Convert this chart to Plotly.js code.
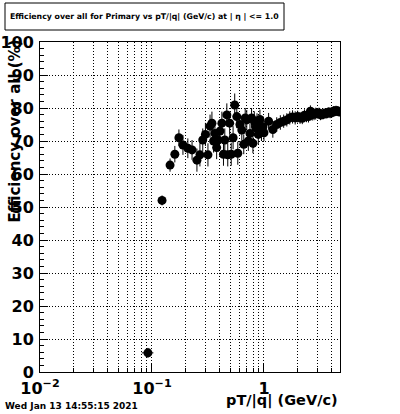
<!DOCTYPE html>
<html>
<head>
<meta charset="utf-8">
<script src="https://cdn.plot.ly/plotly-3.0.1.min.js"></script>
<style>html,body{margin:0;padding:0;background:#fff;}#chart{width:400px;height:414px;}</style>
</head>
<body>
<div id="chart"></div>
<script>
// pT/|q| bin centres (GeV/c)
const pt = [0.092, 0.123, 0.145, 0.160, 0.174, 0.189, 0.209, 0.228, 0.252, 0.268,
            0.284, 0.300, 0.316, 0.330, 0.343, 0.355, 0.365, 0.378, 0.389, 0.405,
            0.421, 0.435, 0.447, 0.466, 0.475, 0.494, 0.510, 0.530, 0.548, 0.572,
            0.584, 0.610, 0.634, 0.660, 0.680, 0.702, 0.725, 0.750, 0.775, 0.797,
            0.820, 0.845, 0.867, 0.890, 0.920, 0.950, 0.980,
            1.0, 1.1, 1.2, 1.3, 1.4, 1.5, 1.6, 1.7, 1.8, 1.9,
            2.0, 2.1, 2.2, 2.3, 2.4, 2.5, 2.6, 2.7, 2.8, 2.9,
            3.0, 3.1, 3.2, 3.3, 3.4, 3.5, 3.6, 3.7, 3.8, 3.9,
            4.0, 4.1, 4.2, 4.3, 4.4, 4.5, 4.6, 4.7];
// half bin widths
const ptErr = [0.011, 0.010, 0.010, 0.008, 0.008, 0.009, 0.010, 0.010, 0.010, 0.010,
               0.010, 0.010, 0.010, 0.010, 0.010, 0.010, 0.010, 0.010, 0.010, 0.010,
               0.010, 0.010, 0.010, 0.010, 0.010, 0.010, 0.010, 0.010, 0.010, 0.010,
               0.010, 0.012, 0.012, 0.012, 0.012, 0.012, 0.012, 0.012, 0.012, 0.012,
               0.012, 0.012, 0.012, 0.012, 0.015, 0.015, 0.015,
               0.05, 0.05, 0.05, 0.05, 0.05, 0.05, 0.05, 0.05, 0.05, 0.05,
               0.05, 0.05, 0.05, 0.05, 0.05, 0.05, 0.05, 0.05, 0.05, 0.05,
               0.05, 0.05, 0.05, 0.05, 0.05, 0.05, 0.05, 0.05, 0.05, 0.05,
               0.05, 0.05, 0.05, 0.05, 0.05, 0.05, 0.05, 0.05];
// efficiency (%)
const eff = [5.8, 52.0, 62.7, 66.0, 71.0, 68.8, 67.8, 67.3, 64.2, 65.8,
             70.3, 72.0, 65.8, 74.5, 75.4, 70.0, 72.3, 68.0, 70.3, 73.0,
             75.4, 66.0, 70.3, 77.9, 65.8, 75.4, 66.0, 71.0, 80.9, 77.4,
             66.3, 75.0, 73.3, 69.0, 77.0, 76.4, 70.0, 72.3, 77.0, 69.3,
             76.0, 74.0, 75.4, 72.0, 76.5, 73.0, 74.3,
             72.5, 76.0, 73.5, 75.0, 75.6, 76.0, 76.4, 77.0, 77.3, 77.0,
             77.4, 77.0, 76.9, 77.8, 77.5, 77.4, 79.0, 78.0, 78.1, 78.3,
             78.4, 78.5, 77.9, 78.1, 78.2, 78.3, 78.4, 78.5, 78.7, 78.5,
             78.6, 78.7, 79.1, 79.0, 79.2, 79.1, 79.0, 78.9];
// statistical errors (%)
const effErr = [1.5, 1.5, 2.0, 2.5, 2.5, 3.0, 3.0, 3.0, 3.5, 3.5,
                3.5, 3.5, 3.5, 3.5, 3.5, 3.5, 3.5, 3.5, 3.5, 3.5,
                3.5, 3.5, 3.5, 3.5, 3.5, 3.5, 3.5, 3.5, 3.5, 3.5,
                3.5, 3.0, 3.0, 3.0, 3.0, 3.0, 3.0, 3.0, 3.0, 3.0,
                3.0, 3.0, 3.0, 3.0, 3.0, 3.0, 3.0,
                2.5, 2.5, 2.5, 2.2, 2.2, 2.0, 2.0, 2.0, 2.0, 2.0,
                1.8, 1.8, 1.8, 1.8, 1.8, 1.8, 1.8, 1.8, 1.8, 1.8,
                1.6, 1.6, 1.6, 1.6, 1.6, 1.6, 1.6, 1.6, 1.6, 1.6,
                1.5, 1.5, 1.5, 1.5, 1.5, 1.5, 1.5, 1.5];

const majorTicks = [0.01, 0.1, 1];
const majorLabels = ['10<sup>−2</sup>', '10<sup>−1</sup>', '1'];
const minorTicks = [0.02, 0.03, 0.04, 0.05, 0.06, 0.07, 0.08, 0.09,
                    0.2, 0.3, 0.4, 0.5, 0.6, 0.7, 0.8, 0.9, 2, 3, 4];

const titleText = 'Efficiency over all for Primary vs pT/|q| (GeV/c) at | η | &lt;= 1.0';
const xTitle = 'pT/|q| (GeV/c)';
const yTitle = 'Efficiency over all (%)';
const dateText = 'Wed Jan 13 14:55:15 2021';

const F = 'DejaVu Sans';
const DOT = '1px,2px';

const trace = {
  x: pt, y: eff, type: 'scatter', mode: 'markers',
  marker: {symbol: 'circle', size: 9, color: '#000'},
  error_y: {type: 'data', array: effErr, visible: true, color: '#000', thickness: 1, width: 0},
  error_x: {type: 'data', array: ptErr, visible: true, color: '#000', thickness: 1, width: 0},
  hoverinfo: 'none'
};

const W = 400, H = 414, L = 40, R = 60, T = 42, B = 42;
const pw = W - L - R, ph = H - T - B;
const px = v => (v - L) / pw;
const py = v => (H - B - v) / ph;

const layout = {
  width: W, height: H,
  margin: {l: L, r: R, t: T, b: B, pad: 0},
  paper_bgcolor: '#fff', plot_bgcolor: '#fff',
  showlegend: false,
  font: {family: F, color: '#000'},
  xaxis: {
    type: 'log', range: [-2, 0.679],
    tickmode: 'array', tickvals: majorTicks, ticktext: majorLabels,
    ticks: 'inside', ticklen: 8, tickwidth: 1, tickcolor: '#000',
    tickfont: {family: F, size: 16, color: '#000', weight: 'bold'},
    ticklabelstandoff: 2,
    showline: true, linecolor: '#000', linewidth: 1, mirror: true,
    showgrid: true, gridcolor: '#000', griddash: DOT, gridwidth: 1,
    zeroline: false,
    minor: {tickmode: 'array', tickvals: minorTicks, ticks: 'inside', ticklen: 4,
            tickcolor: '#000', tickwidth: 1, showgrid: true, gridcolor: '#000',
            griddash: DOT, gridwidth: 1}
  },
  yaxis: {
    range: [0, 100], dtick: 10, tick0: 0,
    ticks: 'inside', ticklen: 8, tickwidth: 1, tickcolor: '#000',
    tickfont: {family: F, size: 16, color: '#000', weight: 'bold'},
    ticklabelstandoff: 2,
    showline: true, linecolor: '#000', linewidth: 1, mirror: true,
    showgrid: true, gridcolor: '#000', griddash: DOT, gridwidth: 1,
    zeroline: false,
    minor: {dtick: 2, ticks: 'inside', ticklen: 4, tickcolor: '#000', tickwidth: 1, showgrid: false}
  },
  shapes: [
    {type: 'rect', xref: 'paper', yref: 'paper', x0: px(5), x1: px(284), y0: py(30), y1: py(3),
     line: {color: '#000', width: 1}, fillcolor: '#fff', layer: 'above'}
  ],
  annotations: [
    {text: titleText, xref: 'paper', yref: 'paper', x: px(144), y: py(16.5),
     xanchor: 'center', yanchor: 'middle', showarrow: false,
     font: {family: F, size: 7.8, color: '#000', weight: 'bold'}},
    {text: yTitle, xref: 'paper', yref: 'paper', x: px(15), y: py(38),
     xanchor: 'center', yanchor: 'top', textangle: -90, showarrow: false,
     font: {family: F, size: 15, color: '#000', weight: 'bold'}},
    {text: xTitle, xref: 'paper', yref: 'paper', x: 1, y: py(400),
     xanchor: 'right', yanchor: 'middle', showarrow: false,
     font: {family: F, size: 14.5, color: '#000', weight: 'bold'}},
    {text: dateText, xref: 'paper', yref: 'paper', x: px(3), y: py(406),
     xanchor: 'left', yanchor: 'middle', showarrow: false,
     font: {family: F, size: 9, color: '#000', weight: 'bold'}}
  ]
};

Plotly.newPlot('chart', [trace], layout, {displayModeBar: false, staticPlot: true});
</script>
</body>
</html>
